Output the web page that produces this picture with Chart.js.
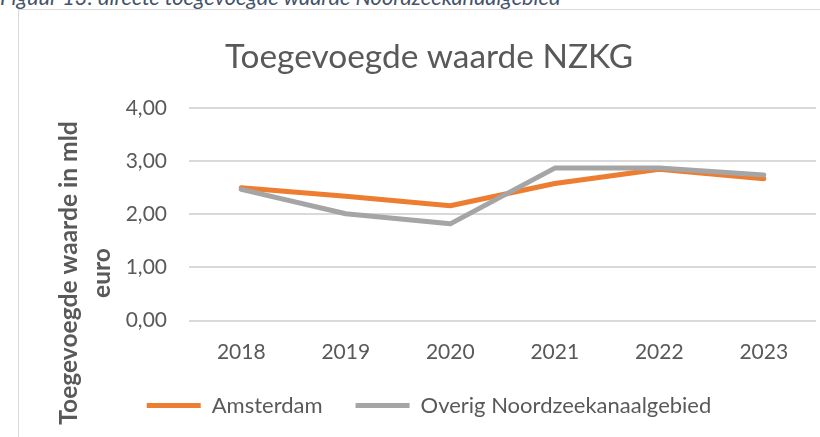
<!DOCTYPE html>
<html lang="nl">
<head>
    <meta charset="UTF-8">
    <title>Toegevoegde waarde NZKG</title>
    <style>
        html, body { margin: 0; padding: 0; background: #fff; overflow: hidden; }
        body { width: 820px; height: 437px; position: relative; }
        #caption { position: absolute; left: 0; top: -14px; font-family: Lato, sans-serif; font-style: italic;
                   font-size: 21.8px; line-height: 21px; color: #44546A; white-space: nowrap; }
        #frame { position: absolute; left: 18px; top: 9px; width: 900px; height: 500px; border: 1px solid #D9D9D9; }
        #wrap { position: absolute; left: 0; top: 0; width: 820px; height: 437px; }
    </style>
    <script src="https://cdn.jsdelivr.net/npm/chart.js"></script>
</head>
<body>
    <div id="caption">Figuur 13: directe toegevoegde waarde Noordzeekanaalgebied</div>
    <div id="frame"></div>
    <div id="wrap"><canvas id="chart" width="820" height="437"></canvas></div>

    <script>
        // gegevens (in mld euro)
        const years = ['2018', '2019', '2020', '2021', '2022', '2023'];
        const amsterdam = [2.50, 2.34, 2.16, 2.58, 2.85, 2.67];
        const overig = [2.47, 2.01, 1.82, 2.87, 2.87, 2.74];
        const yTickLabels = ['0,00', '1,00', '2,00', '3,00', '4,00'];
        const yTitle = ['Toegevoegde waarde in mld', 'euro'];

        const textColor = '#595959';
        const gridColor = '#D9D9D9';

        // as-titel zelf tekenen, gecentreerd zoals in Excel
        const yTitlePlugin = {
            id: 'yTitle',
            afterDraw(chart) {
                const ctx = chart.ctx;
                ctx.save();
                ctx.translate(77, 273);
                ctx.rotate(-Math.PI / 2);
                ctx.font = 'bold 24.6px Lato';
                ctx.fillStyle = textColor;
                ctx.textAlign = 'center';
                ctx.textBaseline = 'alphabetic';
                ctx.fillText(yTitle[0], 0, 0);
                ctx.fillText(yTitle[1], 0, 33);
                ctx.restore();
            }
        };

        new Chart(document.getElementById('chart'), {
            type: 'line',
            data: {
                labels: years,
                datasets: [
                    {
                        label: 'Amsterdam',
                        data: amsterdam,
                        borderColor: '#ED7D31',
                        backgroundColor: '#ED7D31',
                        borderWidth: 5,
                        borderCapStyle: 'round',
                        borderJoinStyle: 'round',
                        pointRadius: 0,
                        tension: 0,
                        order: 1
                    },
                    {
                        label: 'Overig Noordzeekanaalgebied',
                        data: overig,
                        borderColor: '#A5A5A5',
                        backgroundColor: '#A5A5A5',
                        borderWidth: 5,
                        borderCapStyle: 'round',
                        borderJoinStyle: 'round',
                        pointRadius: 0,
                        tension: 0,
                        order: 0
                    }
                ]
            },
            options: {
                responsive: false,
                animation: false,
                devicePixelRatio: 1,
                layout: { padding: { left: 42, right: 4, top: 0, bottom: 10.5 } },
                plugins: {
                    tooltip: { enabled: false },
                    title: {
                        display: true,
                        text: 'Toegevoegde waarde NZKG',
                        color: textColor,
                        font: { family: 'Lato', size: 33.4, weight: 'normal' },
                        padding: { top: 37, bottom: 31 }
                    },
                    legend: {
                        position: 'bottom',
                        labels: {
                            sort: (a, b) => a.datasetIndex - b.datasetIndex,
                            color: textColor,
                            font: { family: 'Lato', size: 22 },
                            usePointStyle: true,
                            pointStyle: 'line',
                            pointStyleWidth: 54,
                            padding: 33
                        }
                    }
                },
                scales: {
                    x: {
                        offset: true,
                        afterFit(scale) { scale.height = 41; },
                        grid: { display: false, drawTicks: false },
                        border: { display: false },
                        ticks: { color: textColor, font: { family: 'Lato', size: 21 }, padding: 19 }
                    },
                    y: {
                        min: 0,
                        max: 4,
                        afterFit(scale) { scale.width = 147; },
                        grid: { color: gridColor, lineWidth: 2, drawTicks: false },
                        border: { display: false },
                        ticks: {
                            stepSize: 1,
                            color: textColor,
                            font: { family: 'Lato', size: 21 },
                            padding: 22,
                            callback: (v, i) => yTickLabels[i]
                        }
                    }
                }
            },
            plugins: [yTitlePlugin]
        });
    </script>
</body>
</html>
